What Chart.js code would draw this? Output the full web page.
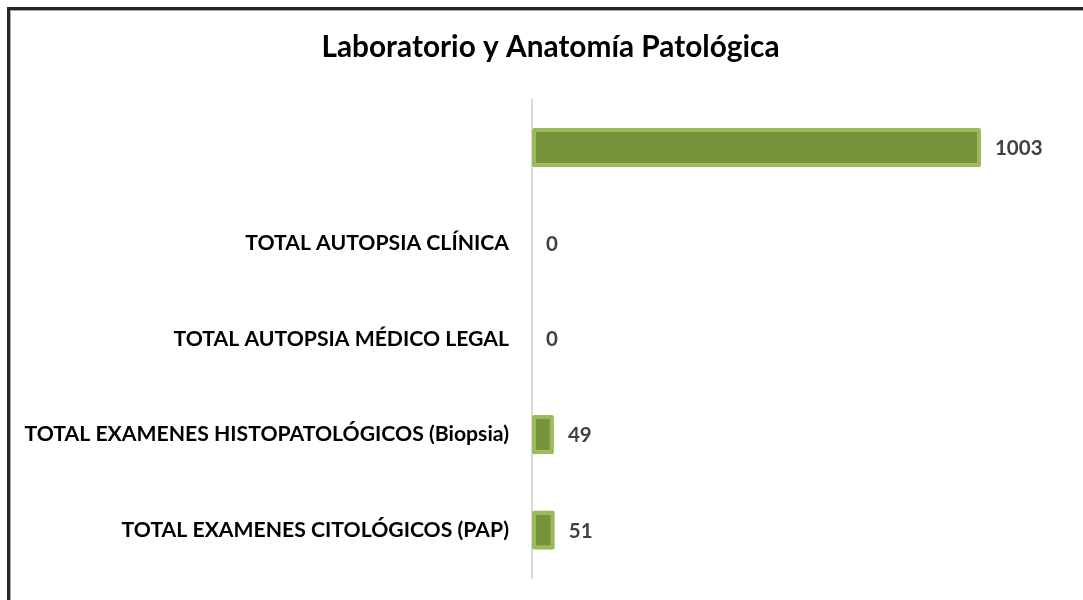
<!DOCTYPE html>
<html>
<head>
<meta charset="utf-8">
<script src="https://cdn.jsdelivr.net/npm/chart.js@4"></script>
<style>
  html, body { margin: 0; padding: 0; background: #fff; width: 1083px; height: 600px; overflow: hidden; }
  #wrap { position: absolute; left: 9px; top: 0; width: 1083px; height: 600px; }
  #frame { position: absolute; left: 7px; top: 7px; width: 2000px; height: 2000px; border: 3px solid #262626; box-shadow: inset 1px 1px 0 0 #a6a6a6; pointer-events: none; }
</style>
</head>
<body>
<div id="wrap"><canvas id="c" width="1083" height="600"></canvas></div>
<div id="frame"></div>
<script>
const chartTitle = "Laboratorio y Anatomía Patológica";
const categories = [
  "",
  "TOTAL AUTOPSIA CLÍNICA",
  "TOTAL AUTOPSIA MÉDICO LEGAL",
  "TOTAL EXAMENES HISTOPATOLÓGICOS (Biopsia)",
  "TOTAL EXAMENES CITOLÓGICOS (PAP)"
];
const values = [1003, 0, 0, 49, 51];

const FONT = "Lato, 'Open Sans', sans-serif";

const valueLabels = {
  id: 'valueLabels',
  afterDatasetsDraw(chart) {
    const ctx = chart.ctx;
    const meta = chart.getDatasetMeta(0);
    ctx.save();
    ctx.font = "bold 20.5px " + FONT;
    ctx.fillStyle = "#404040";
    ctx.textAlign = "left";
    ctx.textBaseline = "middle";
    meta.data.forEach((el, i) => {
      ctx.fillText(String(values[i]), el.x + 14, el.y + 1);
    });
    ctx.restore();
  }
};

new Chart(document.getElementById('c'), {
  type: 'bar',
  data: {
    labels: categories,
    datasets: [{
      data: values,
      backgroundColor: '#77933C',
      borderColor: '#9BBB59',
      borderWidth: 4,
      borderRadius: 2,
      borderSkipped: false,
      categoryPercentage: 1,
      barPercentage: 0.41
    }]
  },
  options: {
    indexAxis: 'y',
    responsive: false,
    animation: false,
    layout: { padding: { left: 0, right: 0, top: 0, bottom: 22 } },
    plugins: {
      legend: { display: false },
      tooltip: { enabled: false },
      title: {
        display: true,
        text: chartTitle,
        color: '#000',
        font: { family: FONT, size: 29.8, weight: 'bold', lineHeight: 1.2 },
        padding: { top: 30, bottom: 34 }
      }
    },
    scales: {
      x: {
        display: false,
        min: 0,
        max: 1251
      },
      y: {
        afterFit(scale) { scale.width = 523; scale.paddingTop = 0; scale.paddingBottom = 0; },
        grid: { display: false, drawTicks: false },
        border: { display: true, color: '#D9D9D9', width: 2 },
        ticks: {
          color: '#000',
          padding: 23,
          font: { family: FONT, size: 21.2, weight: 'bold' }
        }
      }
    }
  },
  plugins: [valueLabels]
});
</script>
</body>
</html>
